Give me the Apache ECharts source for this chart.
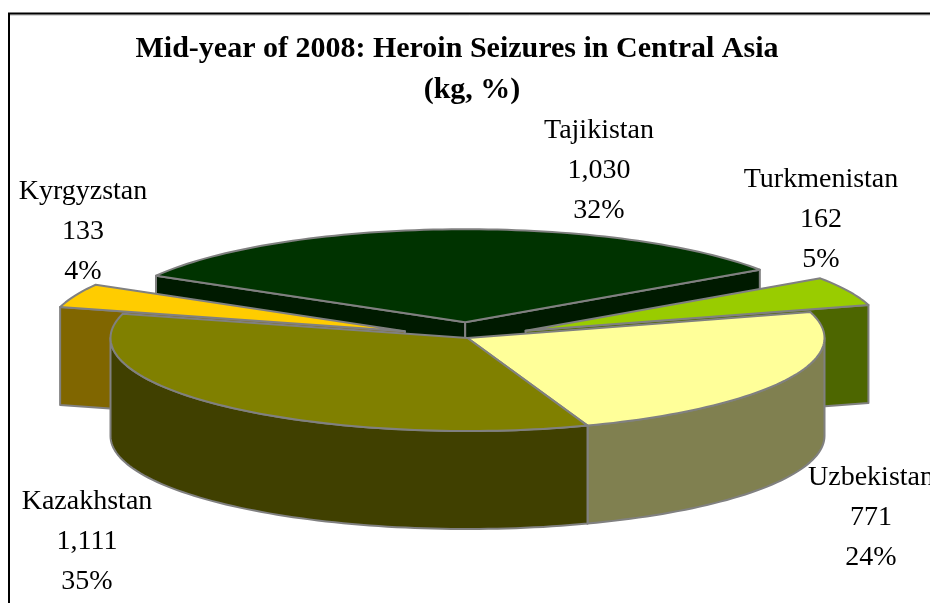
<!DOCTYPE html>
<html>
<head>
<meta charset="utf-8">
<style>
  html, body { margin: 0; padding: 0; background: #fff; }
  #chart { width: 930px; height: 603px; }
</style>
<script src="https://cdn.jsdelivr.net/npm/echarts@6/dist/echarts.min.js"></script>
</head>
<body>
<div id="chart"></div>
<script>
// clockwise from the left edge of Tajikistan
var categories = ['Tajikistan', 'Turkmenistan', 'Uzbekistan', 'Kazakhstan', 'Kyrgyzstan'];
var values = [1030, 162, 771, 1111, 133];
var percents = ['32%', '5%', '24%', '35%', '4%'];
var titleLines = ['Mid-year of 2008: Heroin Seizures in Central Asia', '(kg, %)'];

// look of the slices, same order as categories
var topColors = ['#003300', '#99CC00', '#FFFF99', '#808000', '#FFCC00'];
var sideColors = ['#001A00', '#4D6600', '#808050', '#404000', '#806600'];
var explode = [0.17, 0.18, 0, 0, 0.19];
var labelPos = [[599, 171], [821, 220], [871, 518], [87, 542], [83, 232]];

var pie = { cx: 467.5, cy: 338, rx: 357, ry: 93, depth: 98, startAngle: -60 };
var total = values.reduce(function (a, b) { return a + b; }, 0);
var edge = '#808080';

// back slices first, Uzbekistan goes under Kazakhstan so its cut face stays hidden
var drawOrder = [0, 1, 4, 2, 3];

function startOf(i) {
    var sum = 0;
    for (var k = 0; k < i; k++) sum += values[k];
    return pie.startAngle + sum / total * 360;
}

function toPoint(c, deg, radius, drop) {
    var r = deg * Math.PI / 180;
    return [
        c[0] + pie.rx * radius * Math.sin(r),
        c[1] - pie.ry * radius * Math.cos(r) + (drop || 0)
    ];
}

function arc(c, from, to, drop) {
    var pts = [];
    var n = Math.max(2, Math.ceil(Math.abs(to - from) / 1.5));
    for (var k = 0; k <= n; k++) {
        pts.push(toPoint(c, from + (to - from) * k / n, 1, drop));
    }
    return pts;
}

function poly(points, fill, z2) {
    return {
        type: 'polygon',
        z2: z2,
        shape: { points: points },
        style: { fill: fill, stroke: edge, lineWidth: 2, lineJoin: 'round' }
    };
}

function renderSlice(params, api) {
    var i = api.value(0);
    var a0 = startOf(i);
    var a1 = a0 + api.value(1) / total * 360;
    var mid = (a0 + a1) / 2;
    var c = toPoint([pie.cx, pie.cy], mid, explode[i]);
    var base = params.dataIndex * 10;
    var kids = [];

    // cut faces that look towards the viewer
    [[a0, a0 - 90], [a1, a1 + 90]].forEach(function (f) {
        if (Math.cos(f[1] * Math.PI / 180) < 0) {
            var p = toPoint(c, f[0], 1);
            kids.push(poly([c, p, [p[0], p[1] + pie.depth], [c[0], c[1] + pie.depth]], sideColors[i], base + 1));
        }
    });

    // round outer wall, only the front half of the ellipse
    [[90, 270], [450, 630]].forEach(function (w) {
        var from = Math.max(a0, w[0]);
        var to = Math.min(a1, w[1]);
        if (from < to) {
            var upper = arc(c, from, to, 0);
            var lower = arc(c, to, from, pie.depth);
            kids.push(poly(upper.concat(lower), sideColors[i], base + 2));
        }
    });

    kids.push(poly([c].concat(arc(c, a0, a1, 0)), topColors[i], base + 3));

    kids.push({
        type: 'text',
        z2: 200,
        x: labelPos[i][0],
        y: labelPos[i][1],
        style: {
            text: [categories[i], api.value(1).toLocaleString('en-US'), percents[i]].join('\n'),
            fontFamily: '"Liberation Serif"',
            fontSize: 28,
            lineHeight: 40,
            align: 'center',
            verticalAlign: 'middle',
            fill: '#000'
        }
    });

    return { type: 'group', children: kids };
}

var titleFont = {
    fontFamily: '"Liberation Serif"',
    fontWeight: 'bold',
    fontSize: 30,
    lineHeight: 41,
    color: '#000'
};

var chart = echarts.init(document.getElementById('chart'));
chart.setOption({
    animation: false,
    backgroundColor: '#fff',
    title: [
        { text: titleLines[0], left: 452, top: 24, textAlign: 'center', textStyle: titleFont },
        { text: titleLines[1], left: 467, top: 65, textAlign: 'center', textStyle: titleFont }
    ],
    graphic: [
        { type: 'line', z: -2, shape: { x1: 9, y1: 15, x2: 930, y2: 15 }, style: { stroke: '#B0B0B0', lineWidth: 1 } },
        { type: 'polyline', z: -1, shape: { points: [[9, 603], [9, 13.5], [930, 13.5]] }, style: { stroke: '#000', lineWidth: 2, fill: null } }
    ],
    series: [{
        type: 'custom',
        coordinateSystem: 'none',
        renderItem: renderSlice,
        silent: true,
        clip: false,
        data: drawOrder.map(function (i) { return [i, values[i]]; })
    }]
});
</script>
</body>
</html>
